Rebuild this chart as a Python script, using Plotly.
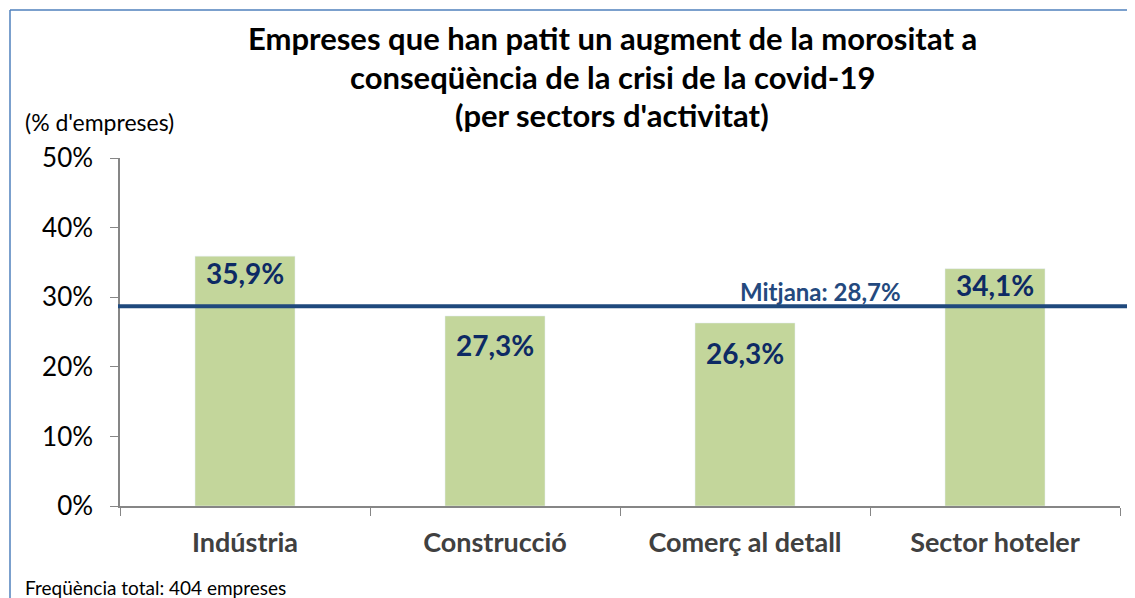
import plotly.graph_objects as go

categories = ["Indústria", "Construcció", "Comerç al detall", "Sector hoteler"]
values = [35.9, 27.3, 26.3, 34.1]
value_labels = ["35,9%", "27,3%", "26,3%", "34,1%"]
mean_value = 28.7
mean_label = "Mitjana: 28,7%"
y_ticks = [0, 10, 20, 30, 40, 50]
y_tick_labels = ["0%", "10%", "20%", "30%", "40%", "50%"]
title_lines = ["Empreses que han patit un augment de la morositat a",
               "conseqüència de la crisi de la covid-19",
               "(per sectors d'activitat)"]
y_unit = "(% d'empreses)"
footer = "Freqüència total: 404 empreses"

FONT = "Lato"
label_shift = [-17, -29, -30, -16]
title_shift = [120, 81, 43]

fig = go.Figure()
fig.add_trace(go.Bar(
    x=categories, y=values, marker_color="#C3D69B", width=0.4,
    hoverinfo="skip", showlegend=False,
))

fig.add_shape(type="line", xref="paper", yref="y", x0=-0.002, x1=1.05,
              y0=mean_value, y1=mean_value,
              line=dict(color="#1F497D", width=4), layer="above")

for c, v, t, s in zip(categories, values, value_labels, label_shift):
    fig.add_annotation(x=c, y=v, text=t, showarrow=False, yshift=s,
                       yanchor="middle",
                       font=dict(family=FONT, size=28, color="#0D2A64", weight="bold"))

fig.add_annotation(x=2.30, y=mean_value, xref="x", yref="y", text=mean_label,
                   showarrow=False, yshift=15, yanchor="middle",
                   font=dict(family=FONT, size=24, color="#24497E", weight="bold"))

for line, s in zip(title_lines, title_shift):
    fig.add_annotation(xref="paper", yref="paper", x=0.492, y=1.0, yshift=s,
                       text=line, showarrow=False, align="center", yanchor="middle",
                       font=dict(family=FONT, size=31, color="black", weight="bold"))

fig.add_annotation(xref="paper", yref="paper", x=-0.097, y=1.0, yshift=36,
                   xanchor="left", yanchor="middle", text=y_unit, showarrow=False,
                   font=dict(family=FONT, size=23, color="black"))

fig.add_annotation(xref="paper", yref="paper", x=-0.097, y=0.0, yshift=-81,
                   xanchor="left", yanchor="middle", text=footer, showarrow=False,
                   font=dict(family=FONT, size=19, color="black"))

# outer border (top and left edges visible in the frame)
border = dict(color="#4F81BD", width=1.5)
fig.add_shape(type="line", xref="paper", yref="paper",
              x0=-0.11, x1=1.1, y0=1.425, y1=1.425, line=border)
fig.add_shape(type="line", xref="paper", yref="paper",
              x0=-0.11, x1=-0.11, y0=-0.4, y1=1.425, line=border)

fig.update_layout(
    width=1127, height=590,
    margin=dict(l=112, r=15, t=150, b=92),
    plot_bgcolor="white", paper_bgcolor="white",
    bargap=0.6,
    xaxis=dict(showline=True, linecolor="#868686", linewidth=1.5,
               ticks="outside", tickcolor="#868686", ticklen=8, tickson="boundaries",
               tickfont=dict(family=FONT, size=27, color="#404040", weight="bold"),
               range=[-0.5, 3.5], showgrid=False, ticklabelstandoff=12),
    yaxis=dict(range=[0, 50], tickvals=y_ticks, ticktext=y_tick_labels,
               showline=True, linecolor="#868686", linewidth=1.5,
               ticks="outside", tickcolor="#868686", ticklen=8,
               tickfont=dict(family=FONT, size=26, color="black"),
               showgrid=False, zeroline=False, ticklabelstandoff=12),
)

fig.write_html("out.html")
